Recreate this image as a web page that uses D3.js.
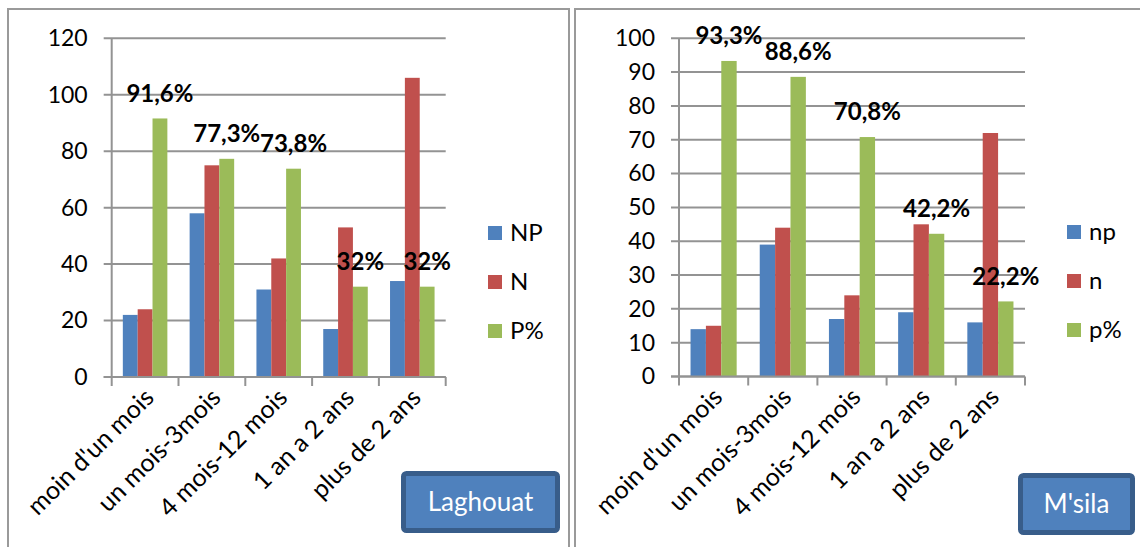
<!DOCTYPE html>
<html>
<head>
<meta charset="utf-8">
<script src="https://cdn.jsdelivr.net/npm/d3@7"></script>
<style>
  html, body { margin: 0; padding: 0; background: #ffffff; }
  svg { display: block; }
  text { font-family: Lato, "Open Sans", sans-serif; }
</style>
</head>
<body>
<svg id="chart" width="1140" height="547"></svg>
<script>
// Durée (catégories) communes aux deux régions
const categories = ["moin d'un mois", "un mois-3mois", "4 mois-12 mois", "1 an a 2 ans", "plus de 2 ans"];

// Laghouat
const laghouatSeries = ["NP", "N", "P%"];
const laghouatNP = [22, 58, 31, 17, 34];
const laghouatN = [24, 75, 42, 53, 106];
const laghouatP = [91.6, 77.3, 73.8, 32, 32];
const laghouatTicks = [0, 20, 40, 60, 80, 100, 120];

// M'sila
const msilaSeries = ["np", "n", "p%"];
const msilaNP = [14, 39, 17, 19, 16];
const msilaN = [15, 44, 24, 45, 72];
const msilaP = [93.3, 88.6, 70.8, 42.2, 22.2];
const msilaTicks = [0, 10, 20, 30, 40, 50, 60, 70, 80, 90, 100];

const colors = ["#4f81bd", "#c0504d", "#9bbb59"];
const gridColor = "#939393";

const svg = d3.select("#chart");

// Percentage label in French notation: 91.6 -> "91,6%", 32 -> "32%"
const pctLabel = v => (Number.isInteger(v) ? String(v) : v.toFixed(1).replace(".", ",")) + "%";

function drawPanel(cfg) {
  // panel frame
  svg.append("rect")
    .attr("x", cfg.frame[0]).attr("y", cfg.frame[1])
    .attr("width", cfg.frame[2]).attr("height", cfg.frame[3])
    .attr("fill", "#fff").attr("stroke", "#9a9a9a").attr("stroke-width", 2);

  const x0 = d3.scaleBand().domain(categories).range([cfg.left, cfg.right]).padding(0);
  const step = x0.bandwidth();
  const bw = step / 4.5; // gap width 150%
  const x1 = d3.scaleBand().domain(cfg.series).range([bw * 0.75, bw * 3.75]).padding(0);
  const y = d3.scaleLinear().domain([0, cfg.max]).range([cfg.bottom, cfg.top]);

  const g = svg.append("g");

  // horizontal gridlines with outward tick stub
  g.append("g").selectAll("line").data(cfg.ticks).join("line")
    .attr("x1", cfg.left - 8).attr("x2", cfg.right)
    .attr("y1", d => y(d)).attr("y2", d => y(d))
    .attr("stroke", gridColor).attr("stroke-width", 2);

  // y axis labels
  const yAxis = d3.axisLeft(y).tickValues(cfg.ticks).tickSize(0).tickPadding(24);
  const ya = g.append("g").attr("transform", `translate(${cfg.left},0)`).call(yAxis);
  ya.select(".domain").remove();
  ya.selectAll("text").attr("font-size", 23).attr("fill", "#000")
    .style("font-family", "Lato, sans-serif");

  // vertical axis line
  g.append("line")
    .attr("x1", cfg.left).attr("x2", cfg.left)
    .attr("y1", y(cfg.max)).attr("y2", cfg.bottom)
    .attr("stroke", gridColor).attr("stroke-width", 2);

  // bars
  const rows = categories.map((c, i) => ({
    cat: c,
    vals: [cfg.a[i], cfg.b[i], cfg.p[i]]
  }));
  const grp = g.append("g").selectAll("g").data(rows).join("g")
    .attr("transform", d => `translate(${x0(d.cat)},0)`);
  grp.selectAll("rect").data(d => d.vals.map((v, k) => ({ k, v }))).join("rect")
    .attr("x", d => x1(cfg.series[d.k]))
    .attr("width", x1.bandwidth())
    .attr("y", d => y(d.v))
    .attr("height", d => cfg.bottom - y(d.v))
    .attr("fill", d => colors[d.k]);

  // category axis (ticks at category boundaries)
  const xa = g.append("g").attr("transform", `translate(0,${cfg.bottom})`);
  const bounds = categories.map(c => x0(c)).concat([cfg.right]);
  xa.selectAll("line").data(bounds).join("line")
    .attr("x1", d => d).attr("x2", d => d)
    .attr("y1", 0).attr("y2", 9)
    .attr("stroke", gridColor).attr("stroke-width", 2);
  xa.append("line").attr("x1", cfg.left - 8).attr("x2", cfg.right)
    .attr("stroke", gridColor).attr("stroke-width", 2);
  xa.selectAll("text").data(categories).join("text")
    .attr("transform", d => `translate(${x0(d) + step / 2 + 4},${16}) rotate(-45)`)
    .attr("text-anchor", "end")
    .attr("dy", "0.35em")
    .attr("font-size", 25)
    .text(d => d);

  // value labels over the percentage bars
  g.append("g").selectAll("text").data(cfg.p).join("text")
    .attr("x", (d, i) => x0(categories[i]) + x1(cfg.series[2]) + x1.bandwidth() / 2)
    .attr("y", d => y(d) - 25)
    .attr("dy", "0.35em")
    .attr("text-anchor", "middle")
    .attr("font-size", 24)
    .attr("font-weight", "bold")
    .text(d => pctLabel(d));

  // legend
  const lg = g.append("g").selectAll("g").data(cfg.series).join("g")
    .attr("transform", (d, i) => `translate(${cfg.legendX},${cfg.legendY + i * 49})`);
  lg.append("rect").attr("x", 0).attr("y", -7).attr("width", 14).attr("height", 14)
    .attr("fill", (d, i) => colors[i]);
  lg.append("text").attr("x", 22).attr("dy", "0.35em").attr("font-size", 24).text(d => d);

  // region badge
  const b = cfg.badge;
  svg.append("rect")
    .attr("x", b[0] + 2.5).attr("y", b[1] + 2.5)
    .attr("width", b[2] - 5).attr("height", b[3] - 5)
    .attr("rx", 3)
    .attr("fill", "#4f81bd").attr("stroke", "#385d8a").attr("stroke-width", 5);
  svg.append("text")
    .attr("x", b[0] + b[2] / 2).attr("y", b[1] + b[3] / 2)
    .attr("dy", "0.35em").attr("text-anchor", "middle")
    .attr("font-size", 26).attr("fill", "#fff")
    .text(cfg.name);
}

drawPanel({
  name: "Laghouat",
  frame: [8, 9, 561, 560],
  left: 111.7, right: 445.7, top: 38.3, bottom: 377,
  max: 120, ticks: laghouatTicks,
  series: laghouatSeries, a: laghouatNP, b: laghouatN, p: laghouatP,
  legendX: 488, legendY: 233,
  badge: [401, 471, 159, 62]
});

drawPanel({
  name: "M'sila",
  frame: [575, 9, 600, 560],
  left: 679, right: 1025, top: 38.3, bottom: 376.5,
  max: 100, ticks: msilaTicks,
  series: msilaSeries, a: msilaNP, b: msilaN, p: msilaP,
  legendX: 1067, legendY: 232,
  badge: [1018, 473, 117, 62]
});
</script>
</body>
</html>
